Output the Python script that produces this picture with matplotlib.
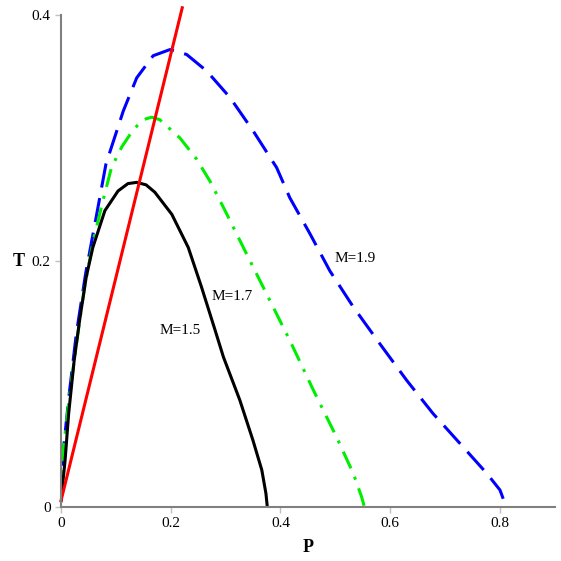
import matplotlib.pyplot as plt

plt.rcParams['font.family'] = ['Liberation Serif', 'DejaVu Serif']

# curves (P, T)
p15 = [0, 0.0075, 0.0140, 0.0240, 0.0340, 0.046, 0.058, 0.080, 0.104, 0.122, 0.138, 0.155, 0.171,
       0.202, 0.232, 0.256, 0.281, 0.296, 0.326, 0.350, 0.366, 0.3735, 0.376]
t15 = [0.005, 0.038, 0.076, 0.119, 0.152, 0.187, 0.211, 0.241, 0.257, 0.263, 0.264, 0.262, 0.256,
       0.238, 0.211, 0.179, 0.1436, 0.122, 0.0868, 0.054, 0.030, 0.011, 0.0]

p17 = [0, 0.005, 0.0160, 0.0290, 0.043, 0.060, 0.077, 0.092, 0.111, 0.132, 0.150, 0.165, 0.180,
       0.217, 0.247, 0.2715, 0.296, 0.338, 0.375, 0.417, 0.460, 0.502, 0.533, 0.548, 0.553]
t17 = [0.005, 0.050, 0.092, 0.1355, 0.179, 0.219, 0.250, 0.276, 0.293, 0.307, 0.315, 0.317, 0.315,
       0.300, 0.283, 0.265, 0.2437, 0.206, 0.173, 0.1355, 0.095, 0.057, 0.027, 0.008, 0.0]

p19 = [0, 0.004, 0.0150, 0.0280, 0.045, 0.063, 0.082, 0.1135, 0.138, 0.168, 0.1986, 0.229, 0.2655,
       0.308, 0.350, 0.393, 0.417, 0.454, 0.490, 0.533, 0.581, 0.630, 0.678, 0.727, 0.776, 0.800,
       0.809, 0.811]
t19 = [0.005, 0.045, 0.092, 0.141, 0.190, 0.233, 0.279, 0.322, 0.349, 0.367, 0.372, 0.368, 0.3546,
       0.333, 0.306, 0.276, 0.2515, 0.222, 0.192, 0.1625, 0.1328, 0.103, 0.076, 0.0517, 0.0273, 0.0138,
       0.003, 0.0]

p_line = [0, 0.221]
t_line = [0.005, 0.406]

labels = ['M=1.5', 'M=1.7', 'M=1.9']
label_pos = [(0.217, 0.1436), (0.312, 0.171), (0.536, 0.202)]

fig = plt.figure(figsize=(5.61, 5.61), dpi=100)
ax = fig.add_axes([0.1087, 0.0963, 0.8803, 0.8767])

ax.plot(p19, t19, color='#0000ff', lw=2.2, dashes=(8, 3.5))
ax.plot(p17, t17, color='#00ee00', lw=2.2, dashes=(6, 3, 1, 3))
ax.plot(p15, t15, color='black', lw=2.2)
ax.plot(p_line, t_line, color='#ff0000', lw=2.2, clip_on=False)

for s, (x, y) in zip(labels, label_pos):
    ax.text(x, y, s, fontsize=11, ha='center', va='center')

ax.set_xlim(0, 0.9)
ax.set_ylim(0, 0.4)
ax.set_xticks([0, 0.2, 0.4, 0.6, 0.8])
ax.set_xticklabels(['0', '0.2', '0.4', '0.6', '0.8'])
ax.set_yticks([0, 0.2, 0.4])
ax.set_yticklabels(['0', '0.2', '0.4'])

for side in ['top', 'right']:
    ax.spines[side].set_visible(False)
for side in ['left', 'bottom']:
    ax.spines[side].set_color('#808080')
    ax.spines[side].set_linewidth(1.5)
ax.tick_params(colors='#c0c0c0', labelcolor='black', labelsize=11, length=4, width=1)

ax.set_xlabel('P', fontsize=13, fontweight='bold', labelpad=6)
ax.set_ylabel('T', fontsize=13, fontweight='bold', rotation=0, labelpad=9, va='center')

fig.savefig('out.png', dpi=100)
